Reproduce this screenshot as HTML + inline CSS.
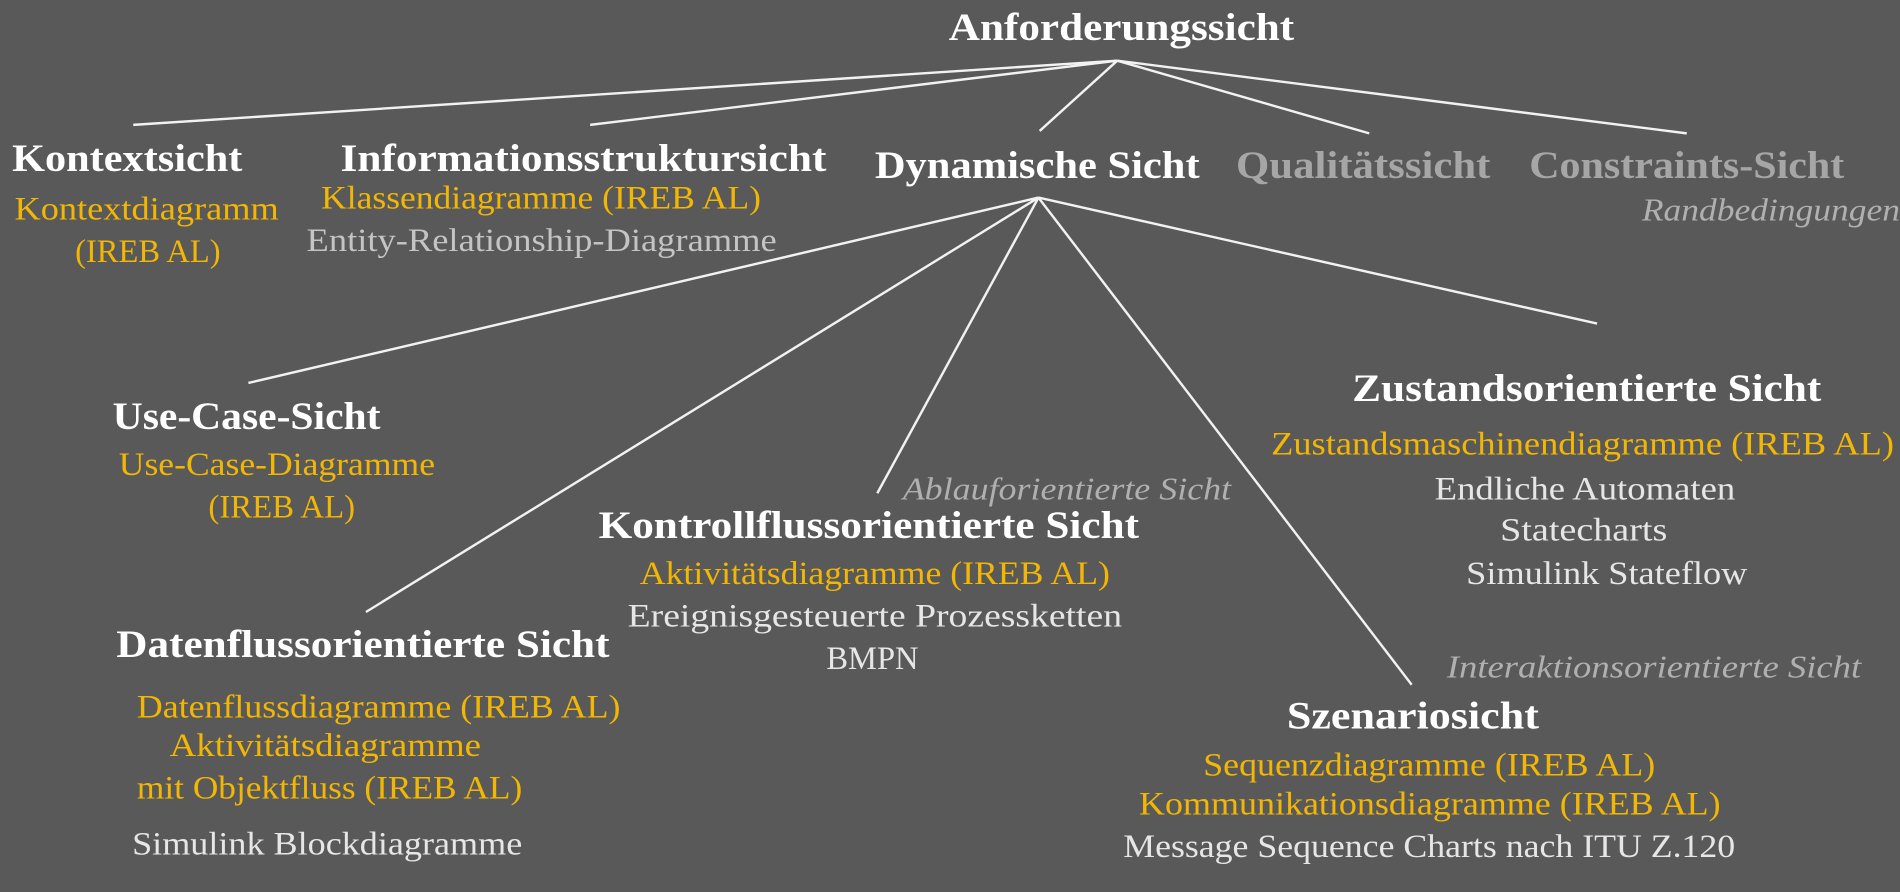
<!DOCTYPE html>
<html><head><meta charset="utf-8"><style>
html,body{margin:0;padding:0;background:#595959;width:1900px;height:892px;overflow:hidden}
svg{display:block}
text{font-family:"Liberation Serif",serif}
.h{font-weight:bold;fill:#fff;font-size:32px}
.y{fill:#f2b705;font-size:27px}
.l{fill:#e6e6e6;font-size:27px}
.i{font-style:italic;fill:#b0b0b0;font-size:26px}
line{stroke:#f2f2f2;stroke-width:2}
</style></head><body>
<svg width="1900" height="892" viewBox="0 0 1568 736" xmlns="http://www.w3.org/2000/svg">
<rect width="1568" height="736" fill="#595959"/>
<g>
<line x1="922" y1="50" x2="110" y2="103"/>
<line x1="922" y1="50" x2="487" y2="103"/>
<line x1="922" y1="50" x2="858" y2="108"/>
<line x1="922" y1="50" x2="1130" y2="110"/>
<line x1="922" y1="50" x2="1392" y2="110"/>
<line x1="857" y1="163" x2="205" y2="316"/>
<line x1="857" y1="163" x2="302" y2="505"/>
<line x1="857" y1="163" x2="724" y2="407"/>
<line x1="857" y1="163" x2="1165" y2="565"/>
<line x1="857" y1="163" x2="1318" y2="267"/>
</g>
<text class="h" x="783" y="33" textLength="285" lengthAdjust="spacingAndGlyphs">Anforderungssicht</text>
<text class="h" x="10" y="141" textLength="190" lengthAdjust="spacingAndGlyphs">Kontextsicht</text>
<text class="y" x="12" y="181" textLength="218" lengthAdjust="spacingAndGlyphs">Kontextdiagramm</text>
<text class="y" x="62" y="216" textLength="120" lengthAdjust="spacingAndGlyphs">(IREB AL)</text>
<text class="h" x="281" y="141" textLength="401" lengthAdjust="spacingAndGlyphs">Informationsstruktursicht</text>
<text class="y" x="265" y="172" textLength="363" lengthAdjust="spacingAndGlyphs">Klassendiagramme (IREB AL)</text>
<text class="l" x="253" y="207" textLength="388" lengthAdjust="spacingAndGlyphs" style="fill:#c4c4c4">Entity-Relationship-Diagramme</text>
<text class="h" x="722" y="147" textLength="268" lengthAdjust="spacingAndGlyphs">Dynamische Sicht</text>
<text class="h" x="1020" y="147" textLength="210" lengthAdjust="spacingAndGlyphs" style="fill:#a6a6a6">Qualitätssicht</text>
<text class="h" x="1262" y="147" textLength="260" lengthAdjust="spacingAndGlyphs" style="fill:#a6a6a6">Constraints-Sicht</text>
<text class="i" x="1355" y="182" textLength="213" lengthAdjust="spacingAndGlyphs">Randbedingungen</text>
<text class="h" x="93" y="354" textLength="221" lengthAdjust="spacingAndGlyphs">Use-Case-Sicht</text>
<text class="y" x="98" y="392" textLength="261" lengthAdjust="spacingAndGlyphs">Use-Case-Diagramme</text>
<text class="y" x="172" y="427" textLength="121" lengthAdjust="spacingAndGlyphs">(IREB AL)</text>
<text class="i" x="745" y="412" textLength="271" lengthAdjust="spacingAndGlyphs">Ablauforientierte Sicht</text>
<text class="h" x="494" y="444" textLength="446" lengthAdjust="spacingAndGlyphs">Kontrollflussorientierte Sicht</text>
<text class="y" x="528" y="482" textLength="388" lengthAdjust="spacingAndGlyphs">Aktivitätsdiagramme (IREB AL)</text>
<text class="l" x="518" y="517" textLength="408" lengthAdjust="spacingAndGlyphs">Ereignisgesteuerte Prozessketten</text>
<text class="l" x="682" y="552" textLength="76" lengthAdjust="spacingAndGlyphs">BMPN</text>
<text class="h" x="1116" y="331" textLength="387" lengthAdjust="spacingAndGlyphs">Zustandsorientierte Sicht</text>
<text class="y" x="1049" y="375" textLength="514" lengthAdjust="spacingAndGlyphs">Zustandsmaschinendiagramme (IREB AL)</text>
<text class="l" x="1184" y="412" textLength="248" lengthAdjust="spacingAndGlyphs">Endliche Automaten</text>
<text class="l" x="1238" y="446" textLength="138" lengthAdjust="spacingAndGlyphs">Statecharts</text>
<text class="l" x="1210" y="482" textLength="232" lengthAdjust="spacingAndGlyphs">Simulink Stateflow</text>
<text class="i" x="1194" y="559" textLength="342" lengthAdjust="spacingAndGlyphs">Interaktionsorientierte Sicht</text>
<text class="h" x="1062" y="601" textLength="208" lengthAdjust="spacingAndGlyphs">Szenariosicht</text>
<text class="y" x="993" y="640" textLength="373" lengthAdjust="spacingAndGlyphs">Sequenzdiagramme (IREB AL)</text>
<text class="y" x="940" y="672" textLength="480" lengthAdjust="spacingAndGlyphs">Kommunikationsdiagramme (IREB AL)</text>
<text class="l" x="927" y="707" textLength="505" lengthAdjust="spacingAndGlyphs">Message Sequence Charts nach ITU Z.120</text>
<text class="h" x="96" y="542" textLength="407" lengthAdjust="spacingAndGlyphs">Datenflussorientierte Sicht</text>
<text class="y" x="113" y="592" textLength="399" lengthAdjust="spacingAndGlyphs">Datenflussdiagramme (IREB AL)</text>
<text class="y" x="140" y="624" textLength="257" lengthAdjust="spacingAndGlyphs">Aktivitätsdiagramme</text>
<text class="y" x="113" y="659" textLength="318" lengthAdjust="spacingAndGlyphs">mit Objektfluss (IREB AL)</text>
<text class="l" x="109" y="705" textLength="322" lengthAdjust="spacingAndGlyphs">Simulink Blockdiagramme</text>
</svg>
</body></html>
